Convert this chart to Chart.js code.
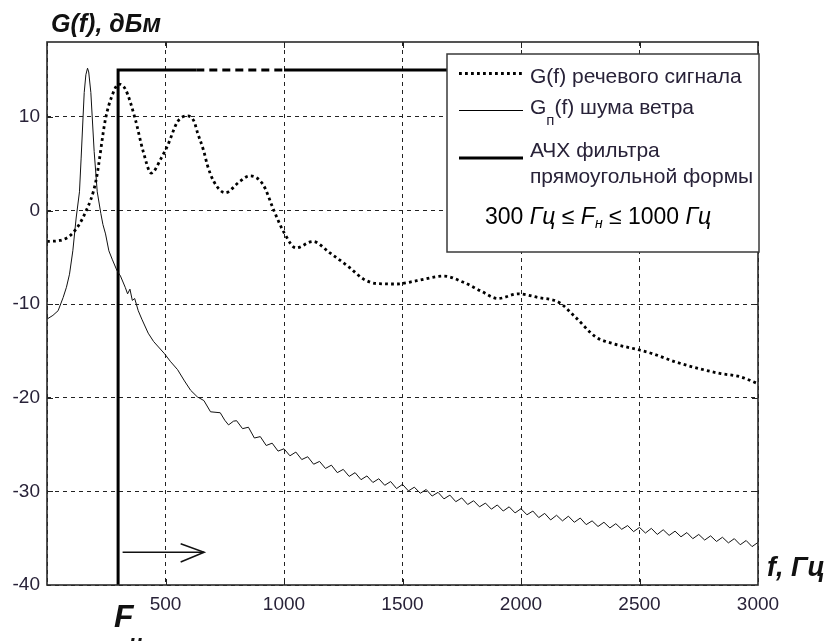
<!DOCTYPE html>
<html><head><meta charset="utf-8">
<script src="https://cdn.jsdelivr.net/npm/chart.js@4.4.0/dist/chart.umd.min.js"></script>
<style>html,body{margin:0;padding:0;background:#fff;}#wrap{width:840px;height:641px;position:relative;}</style>
</head><body><div id="wrap"><canvas id="c" width="840" height="641"></canvas></div>
<script>
// ---- data ----
const xTicks = [0, 500, 1000, 1500, 2000, 2500, 3000];
const yTicks = [-40, -30, -20, -10, 0, 10];

const fSpeech = [0,54,109,164,206,247,275,302,330,372,406,440,482,510,551,593,621,634,662,676,704,752,813,855,911,959,1001,1051,1122,1192,1277,1334,1390,1475,1560,1674,1760,1831,1903,1988,2074,2159,2230,2315,2386,2500,2556,2655,2754,2839,2924,3000];
const gSpeech = [-3.3,-3.2,-2.4,-0.1,3.1,9.8,12.3,13.5,13.0,9.8,6.3,4.0,5.6,7.0,9.5,10.1,9.5,8.4,6.3,4.9,3.1,1.9,3.1,3.7,2.8,-0.1,-2.4,-4.0,-3.3,-4.5,-6.1,-7.3,-7.8,-7.85,-7.5,-7.0,-7.7,-8.6,-9.4,-8.9,-9.3,-9.8,-11.4,-13.5,-14.2,-14.9,-15.3,-16.2,-16.9,-17.4,-17.75,-18.5];

const fNoise = [0,25,47,68,82,95,109,123,137,144,157,164,171,176,185,199,212,227,236,247,261,275,295,310,330,340,350,360,370,385,400,427,450,496,520,551,580,606,634,662,690,731,750,766,787,
800,825,850,875,900,925,950,975,1000,1025,1050,1075,1100,1125,1150,1175,1200,1225,1250,1275,1300,1325,1350,1375,1400,1425,1450,1475,1500,1525,1550,1575,1600,1625,1650,1675,1700,1725,1750,1775,1800,1825,1850,1875,1900,1925,1950,1975,2000,2025,2050,2075,2100,2125,2150,2175,2200,2225,2250,2275,2300,2325,2350,2375,2400,2425,2450,2475,2500,2525,2550,2575,2600,2625,2650,2675,2700,2725,2750,2775,2800,2825,2850,2875,2900,2925,2950,2975,3000];
const gNoise = [-11.6,-11.2,-10.7,-9.3,-8.2,-6.8,-4.3,-0.8,2.0,5.6,12.6,14.5,15.2,14.8,12.6,6.3,2.0,-0.3,-1.5,-2.5,-4.3,-5.2,-6.4,-7.0,-8.2,-8.9,-8.4,-9.6,-9.4,-10.7,-11.6,-13.1,-14.0,-15.3,-16.1,-17.0,-18.2,-19.2,-19.9,-20.3,-21.5,-21.6,-22.4,-22.9,-22.5,
-22.45,-23.3,-23.15,-24.3,-24.15,-25.1,-24.85,-25.7,-25.45,-26.2,-25.8,-26.6,-26.3,-27.1,-26.8,-27.55,-27.2,-28.0,-27.65,-28.4,-28.0,-28.75,-28.35,-29.05,-28.65,-29.35,-28.95,-29.7,-29.25,-29.95,-29.55,-30.2,-29.8,-30.5,-30.1,-30.8,-30.4,-31.1,-30.7,-31.4,-31.0,-31.65,-31.25,-31.9,-31.45,-32.1,-31.65,-32.3,-31.85,-32.5,-32.1,-32.8,-32.35,-33.05,-32.55,-33.15,-32.65,-33.3,-32.85,-33.55,-33.15,-33.75,-33.3,-33.9,-33.45,-34.05,-33.65,-34.3,-33.85,-34.45,-33.95,-34.6,-34.1,-34.7,-34.25,-34.85,-34.4,-35.05,-34.6,-35.2,-34.75,-35.35,-34.9,-35.5,-35.05,-35.7,-35.25,-35.9,-35.45];

const fFilter = [300, 300, 630, 1000, 3000];
const gFilter = [-40, 15, 15, 15, 15];

const fArrow = [319, 663];
const gArrow = [-36.5, -36.5];
const fArrowHead = [564, 663, 564];
const gArrowHead = [-35.6, -36.5, -37.55];

const legendLabels = ['G(f) речевого сигнала', '(f) шума ветра', 'АЧХ фильтра', 'прямоугольной формы'];
const titleY = 'G(f), дБм';
const titleX = 'f, Гц';

// ---- helpers ----
const pts = (xs, ys) => xs.map((v, i) => ({x: v, y: ys[i]}));
const FONT = '"Liberation Sans", Arial, sans-serif';
const TXT = '#282238';

const deco = {
  id: 'deco',
  afterDatasetsDraw(chart) {
    const {ctx, chartArea: a, scales: {x, y}} = chart;
    ctx.save();
    ctx.setLineDash([]);
    // inward tick marks
    ctx.strokeStyle = '#222'; ctx.lineWidth = 1;
    ctx.beginPath();
    xTicks.forEach(v => {
      if (v <= 0 || v >= 3000) return;
      const p = Math.round(x.getPixelForValue(v)) + 0.5;
      ctx.moveTo(p, a.bottom); ctx.lineTo(p, a.bottom - 6);
      ctx.moveTo(p, a.top); ctx.lineTo(p, a.top + 6);
    });
    yTicks.forEach(v => {
      if (v <= -40) return;
      const p = Math.round(y.getPixelForValue(v)) + 0.5;
      ctx.moveTo(a.left, p); ctx.lineTo(a.left + 6, p);
      ctx.moveTo(a.right, p); ctx.lineTo(a.right - 6, p);
    });
    ctx.stroke();
    // frame
    ctx.lineWidth = 1.6; ctx.strokeStyle = '#2a2a2a';
    ctx.strokeRect(a.left, a.top, a.right - a.left, a.bottom - a.top);

    // legend box
    const L = 447, T = 54, W = 312, H = 198;
    ctx.fillStyle = '#fff'; ctx.fillRect(L, T, W, H);
    ctx.lineWidth = 1.5; ctx.strokeStyle = '#3a3a3a'; ctx.strokeRect(L, T, W, H);
    // samples
    ctx.strokeStyle = '#000';
    ctx.lineWidth = 2.8; ctx.setLineDash([2.8, 3.2]);
    ctx.beginPath(); ctx.moveTo(459, 73.5); ctx.lineTo(523, 73.5); ctx.stroke();
    ctx.setLineDash([]);
    ctx.lineWidth = 1; ctx.beginPath(); ctx.moveTo(459, 110.5); ctx.lineTo(523, 110.5); ctx.stroke();
    ctx.lineWidth = 3; ctx.beginPath(); ctx.moveTo(459, 158); ctx.lineTo(523, 158); ctx.stroke();
    // legend texts
    ctx.fillStyle = TXT; ctx.textBaseline = 'alphabetic'; ctx.textAlign = 'left';
    ctx.font = '21px ' + FONT;
    ctx.fillText(legendLabels[0], 530, 83);
    ctx.fillText('G', 530, 114);
    let gx = 530 + ctx.measureText('G').width;
    ctx.font = '15px ' + FONT; ctx.fillText('п', gx, 125);
    gx += ctx.measureText('п').width;
    ctx.font = '21px ' + FONT; ctx.fillText(legendLabels[1], gx, 114);
    ctx.fillText(legendLabels[2], 530, 157);
    ctx.fillText(legendLabels[3], 530, 183);
    // range line
    ctx.fillStyle = '#000';
    let rx = 485; const rb = 224;
    const seg = (t, f, dy) => { ctx.font = f; ctx.fillText(t, rx, rb + (dy || 0)); rx += ctx.measureText(t).width; };
    seg('300 ', '23px ' + FONT);
    seg('Гц', 'italic 23px ' + FONT);
    seg(' ≤ ', '23px ' + FONT);
    seg('F', 'italic 23px ' + FONT);
    seg('н', 'italic 14px ' + FONT, 4);
    seg(' ≤ 1000 ', '23px ' + FONT);
    seg('Гц', 'italic 23px ' + FONT);

    // axis titles
    ctx.fillStyle = '#111';
    ctx.font = 'italic bold 25px ' + FONT;
    ctx.fillText(titleY, 51, 32);
    ctx.font = 'italic bold 27px ' + FONT;
    ctx.fillText(titleX, 767, 576);
    ctx.font = 'italic bold 32px ' + FONT;
    ctx.fillText('F', 114, 627);
    ctx.font = 'italic bold 22px ' + FONT;
    ctx.fillText('н', 129, 650);
    ctx.restore();
  }
};

new Chart(document.getElementById('c'), {
  type: 'line',
  data: {
    datasets: [
      {data: pts(fSpeech, gSpeech), borderColor: '#000', borderWidth: 2.8, borderDash: [2.8, 3.2], pointRadius: 0, cubicInterpolationMode: 'monotone', fill: false},
      {data: pts(fNoise, gNoise), borderColor: '#111', borderWidth: 1, pointRadius: 0, tension: 0, fill: false},
      {data: pts(fFilter, gFilter), borderColor: '#000', borderWidth: 3, pointRadius: 0, tension: 0, fill: false,
        segment: {borderDash: c => c.p0DataIndex === 2 ? [8, 5] : undefined}},
      {data: pts(fArrow, gArrow), borderColor: '#111', borderWidth: 1.5, pointRadius: 0, fill: false},
      {data: pts(fArrowHead, gArrowHead), borderColor: '#111', borderWidth: 1.5, pointRadius: 0, fill: false}
    ]
  },
  options: {
    responsive: false, animation: false, devicePixelRatio: 1,
    layout: {padding: {left: 0, top: 42, right: 82, bottom: 0}},
    plugins: {legend: {display: false}, tooltip: {enabled: false}},
    scales: {
      x: {
        type: 'linear', min: 0, max: 3000,
        afterFit: s => { s.height = 56; },
        afterBuildTicks: s => { s.ticks = xTicks.map(v => ({value: v})); },
        ticks: {color: TXT, font: {family: FONT, size: 19}, padding: 8, maxRotation: 0,
          callback: v => v === 0 ? '' : String(v)},
        grid: {color: '#222', lineWidth: 1, drawTicks: false},
        border: {display: false, dash: [4, 4]}
      },
      y: {
        type: 'linear', min: -40, max: 18,
        afterFit: s => { s.width = 47; },
        afterBuildTicks: s => { s.ticks = yTicks.map(v => ({value: v})); },
        ticks: {color: TXT, font: {family: FONT, size: 19}, padding: 7},
        grid: {color: '#222', lineWidth: 1, drawTicks: false},
        border: {display: false, dash: [4, 4]}
      }
    }
  },
  plugins: [deco]
});
</script></body></html>
